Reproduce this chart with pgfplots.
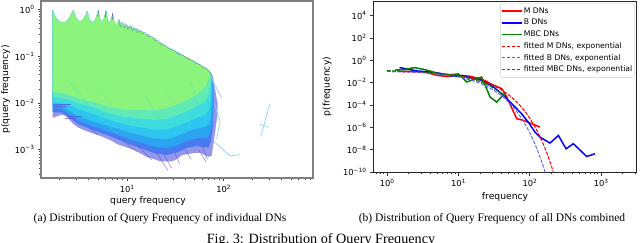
\documentclass[border=0pt]{standalone}
\usepackage{fontspec}
\setmainfont{Liberation Serif}
\newfontfamily\dejavu{DejaVu Sans}
\usepackage{pgfplots}
\pgfplotsset{compat=1.18}
\newcommand\tickfont{\dejavu\fontsize{8.3}{9}\selectfont}
\newcommand\labfont{\dejavu\fontsize{9.2}{11}\selectfont}
\newcommand\legfont{\dejavu\fontsize{7.7}{9}\selectfont}
\newcommand\ex[1]{10\raisebox{0.42em}{\fontsize{5.8}{6}\selectfont #1}}
\definecolor{c0}{HTML}{5050DC}
\definecolor{c1}{HTML}{3878F0}
\definecolor{c2}{HTML}{2CA4F2}
\definecolor{c3}{HTML}{2EC6F0}
\definecolor{c4}{HTML}{3EDCDC}
\definecolor{c5}{HTML}{62EAB6}
\definecolor{c6}{HTML}{8CF47C}
\definecolor{cL}{HTML}{7CCFF5}
\definecolor{mplgreen}{HTML}{008000}
\begin{document}
\begin{tikzpicture}[x=1pt,y=1pt]
\path[use as bounding box] (0,0) rectangle (640,242);
% ---------------- left panel ----------------
\begin{axis}[at={(41pt,64pt)}, anchor=south west, width=272pt, height=177pt, scale only axis,
  xmode=log, ymode=log, xmin=1.285, xmax=845, ymin=2.47e-4, ymax=1.52,
  axis line style={draw=black!50, line width=1.1pt},
  tick align=outside, tick pos=left, major tick length=3.5pt, minor tick length=2pt,
  tick style={black!75, line width=0.6pt},
  xtick={10,100}, xticklabels={\ex{1},\ex{2}},
  minor xtick={2,3,4,5,6,7,8,9,20,30,40,50,60,70,80,90,200,300,400,500,600,700,800},
  ytick={1e-3,1e-2,1e-1,1}, yticklabels={\ex{−3},\ex{−2},\ex{−1},\ex{0}},
  minor ytick={3e-4,4e-4,5e-4,6e-4,7e-4,8e-4,9e-4,2e-3,3e-3,4e-3,5e-3,6e-3,7e-3,8e-3,9e-3,2e-2,3e-2,4e-2,5e-2,6e-2,7e-2,8e-2,9e-2,0.2,0.3,0.4,0.5,0.6,0.7,0.8,0.9},
  tick label style={font=\tickfont},
]
% band 0 (outermost, dark blue)
\addplot[fill=c0, draw=none, fill opacity=0.6] coordinates {
(1.70,0.98) (1.76,0.78) (1.85,0.64) (1.97,0.56) (2.12,0.52) (2.3,0.54) (2.48,0.62) (2.65,0.8) (2.78,0.98)
(2.88,0.76) (3.02,0.62) (3.2,0.56) (3.4,0.57) (3.6,0.66) (3.78,0.82) (3.88,0.93)
(3.98,0.72) (4.15,0.58) (4.4,0.52) (4.7,0.6) (4.9,0.78) (5.05,0.96)
(5.18,0.7) (5.4,0.56) (5.7,0.58) (5.95,0.8) (6.05,0.95)
(6.25,0.62) (6.6,0.5) (6.95,0.68) (7.1,0.84)
(7.35,0.55) (7.8,0.47) (8.15,0.56) (8.32,0.6)
(8.7,0.45) (9.2,0.5) (9.6,0.42) (10,0.47) (10.6,0.4) (11.2,0.44) (11.8,0.37) (12.6,0.39) (13.5,0.33) (14.5,0.34) (15.5,0.29) (16.5,0.3) (18,0.25) (19.5,0.24) (21,0.2) (23,0.19) (26,0.155) (29,0.14) (32,0.125) (35.4,0.115) (39,0.1) (43,0.092) (48,0.08) (53,0.072) (58,0.064) (63,0.058) (67,0.054) (70,0.05) (73,0.045) (75.5,0.04)
(78,0.03) (81,0.022) (84,0.014) (87,0.0095) (86,0.005) (83,0.003) (80,0.0017) (77,0.001) (75.5,0.00075) (70,0.0007) (64,0.00076) (58,0.00085) (52,0.00085) (47,0.00083) (42,0.0008) (37,0.00076) (33,0.00063) (29,0.00056) (26,0.00056) (22,0.00056) (19,0.00063) (16,0.0007) (13.5,0.00085) (11.6,0.001) (9.5,0.00115) (8,0.0013) (6.7,0.0016) (5.5,0.0019) (4.5,0.0022) (3.6,0.0026) (3.1,0.003) (2.75,0.0036) (2.5,0.0045) (2.35,0.0052) (2.1,0.0056) (1.9,0.0052) (1.70,0.0048)
} -- cycle;
% band 1
\addplot[fill=c1, draw=none, fill opacity=0.85] coordinates {
(1.70,0.98) (1.76,0.78) (1.85,0.64) (1.97,0.56) (2.12,0.52) (2.3,0.54) (2.48,0.62) (2.65,0.8) (2.78,0.98)
(2.88,0.76) (3.02,0.62) (3.2,0.56) (3.4,0.57) (3.6,0.66) (3.78,0.82) (3.88,0.93)
(3.98,0.72) (4.15,0.58) (4.4,0.52) (4.7,0.6) (4.9,0.78) (5.05,0.96)
(5.18,0.7) (5.4,0.56) (5.7,0.58) (5.95,0.8) (6.05,0.95)
(6.25,0.62) (6.6,0.5) (6.95,0.68) (7.1,0.84)
(7.35,0.55) (7.8,0.47) (8.15,0.56) (8.32,0.6)
(8.7,0.45) (9.2,0.5) (9.6,0.42) (10,0.47) (10.6,0.4) (11.2,0.44) (11.8,0.37) (12.6,0.39) (13.5,0.33) (14.5,0.34) (15.5,0.29) (16.5,0.3) (18,0.25) (19.5,0.24) (21,0.2) (23,0.19) (26,0.155) (29,0.14) (32,0.125) (35.4,0.115) (39,0.1) (43,0.092) (48,0.08) (53,0.072) (58,0.064) (63,0.058) (67,0.054) (70,0.05) (73,0.045) (75.5,0.04)
(78,0.025) (79,0.01) (78,0.0035) (74,0.0015) (70,0.00112) (64,0.00113) (52,0.0012) (42,0.00109) (33,0.00087) (26,0.00077) (19,0.00084) (13.5,0.0011) (9.5,0.00143) (6.7,0.00193) (4.5,0.00261) (3.1,0.00352) (2.5,0.00503) (2.1,0.0062) (1.7,0.0064)
} -- cycle;
% band 2
\addplot[fill=c2, draw=none] coordinates {
(1.70,0.98) (1.76,0.78) (1.85,0.64) (1.97,0.56) (2.12,0.52) (2.3,0.54) (2.48,0.62) (2.65,0.8) (2.78,0.98)
(2.88,0.76) (3.02,0.62) (3.2,0.56) (3.4,0.57) (3.6,0.66) (3.78,0.82) (3.88,0.93)
(3.98,0.72) (4.15,0.58) (4.4,0.52) (4.7,0.6) (4.9,0.78) (5.05,0.96)
(5.18,0.7) (5.4,0.56) (5.7,0.58) (5.95,0.8) (6.05,0.95)
(6.25,0.62) (6.6,0.5) (6.95,0.68) (7.1,0.84)
(7.35,0.55) (7.8,0.47) (8.15,0.56) (8.32,0.6)
(8.7,0.45) (9.2,0.5) (9.6,0.42) (10,0.47) (10.6,0.4) (11.2,0.44) (11.8,0.37) (12.6,0.39) (13.5,0.33) (14.5,0.34) (15.5,0.29) (16.5,0.3) (18,0.25) (19.5,0.24) (21,0.2) (23,0.19) (26,0.155) (29,0.14) (32,0.125) (35.4,0.115) (39,0.1) (43,0.092) (48,0.08) (53,0.072) (58,0.064) (63,0.058) (67,0.054) (70,0.05) (73,0.045) (75.5,0.04)
(77,0.028) (78,0.012) (77,0.005) (74,0.0025) (70,0.00183) (64,0.00174) (52,0.00174) (42,0.00155) (33,0.00124) (26,0.00108) (19,0.00116) (13.5,0.00145) (9.5,0.00182) (6.7,0.00238) (4.5,0.00314) (3.1,0.00417) (2.5,0.00572) (2.1,0.0075) (1.7,0.0078)
} -- cycle;
% band 3
\addplot[fill=c3, draw=none] coordinates {
(1.70,0.98) (1.76,0.78) (1.85,0.64) (1.97,0.56) (2.12,0.52) (2.3,0.54) (2.48,0.62) (2.65,0.8) (2.78,0.98)
(2.88,0.76) (3.02,0.62) (3.2,0.56) (3.4,0.57) (3.6,0.66) (3.78,0.82) (3.88,0.93)
(3.98,0.72) (4.15,0.58) (4.4,0.52) (4.7,0.6) (4.9,0.78) (5.05,0.96)
(5.18,0.7) (5.4,0.56) (5.7,0.58) (5.95,0.8) (6.05,0.95)
(6.25,0.62) (6.6,0.5) (6.95,0.68) (7.1,0.84)
(7.35,0.55) (7.8,0.47) (8.15,0.56) (8.32,0.6)
(8.7,0.45) (9.2,0.5) (9.6,0.42) (10,0.47) (10.6,0.4) (11.2,0.44) (11.8,0.37) (12.6,0.39) (13.5,0.33) (14.5,0.34) (15.5,0.29) (16.5,0.3) (18,0.25) (19.5,0.24) (21,0.2) (23,0.19) (26,0.155) (29,0.14) (32,0.125) (35.4,0.115) (39,0.1) (43,0.092) (48,0.08) (53,0.072) (58,0.064) (63,0.058) (67,0.054) (70,0.05) (73,0.045) (75.5,0.04)
(76,0.03) (76,0.012) (74,0.005) (70,0.00349) (64,0.00305) (52,0.00282) (42,0.00244) (33,0.00195) (26,0.00169) (19,0.00174) (13.5,0.00207) (9.5,0.00249) (6.7,0.00315) (4.5,0.00403) (3.1,0.00519) (2.5,0.007) (2.1,0.0088) (1.7,0.0092)
} -- cycle;
% band 4
\addplot[fill=c4, draw=none] coordinates {
(1.70,0.98) (1.76,0.78) (1.85,0.64) (1.97,0.56) (2.12,0.52) (2.3,0.54) (2.48,0.62) (2.65,0.8) (2.78,0.98)
(2.88,0.76) (3.02,0.62) (3.2,0.56) (3.4,0.57) (3.6,0.66) (3.78,0.82) (3.88,0.93)
(3.98,0.72) (4.15,0.58) (4.4,0.52) (4.7,0.6) (4.9,0.78) (5.05,0.96)
(5.18,0.7) (5.4,0.56) (5.7,0.58) (5.95,0.8) (6.05,0.95)
(6.25,0.62) (6.6,0.5) (6.95,0.68) (7.1,0.84)
(7.35,0.55) (7.8,0.47) (8.15,0.56) (8.32,0.6)
(8.7,0.45) (9.2,0.5) (9.6,0.42) (10,0.47) (10.6,0.4) (11.2,0.44) (11.8,0.37) (12.6,0.39) (13.5,0.33) (14.5,0.34) (15.5,0.29) (16.5,0.3) (18,0.25) (19.5,0.24) (21,0.2) (23,0.19) (26,0.155) (29,0.14) (32,0.125) (35.4,0.115) (39,0.1) (43,0.092) (48,0.08) (53,0.072) (58,0.064) (63,0.058) (67,0.054) (70,0.05) (73,0.045) (75.5,0.04)
(75,0.035) (75,0.02) (73,0.01) (70,0.00692) (64,0.00555) (52,0.00472) (42,0.00394) (33,0.00318) (26,0.00272) (19,0.00269) (13.5,0.00303) (9.5,0.00347) (6.7,0.00423) (4.5,0.0058) (3.1,0.0075) (2.5,0.0092) (2.1,0.0098) (1.7,0.0105)
} -- cycle;
% band 5
\addplot[fill=c5, draw=none] coordinates {
(1.70,0.98) (1.76,0.78) (1.85,0.64) (1.97,0.56) (2.12,0.52) (2.3,0.54) (2.48,0.62) (2.65,0.8) (2.78,0.98)
(2.88,0.76) (3.02,0.62) (3.2,0.56) (3.4,0.57) (3.6,0.66) (3.78,0.82) (3.88,0.93)
(3.98,0.72) (4.15,0.58) (4.4,0.52) (4.7,0.6) (4.9,0.78) (5.05,0.96)
(5.18,0.7) (5.4,0.56) (5.7,0.58) (5.95,0.8) (6.05,0.95)
(6.25,0.62) (6.6,0.5) (6.95,0.68) (7.1,0.84)
(7.35,0.55) (7.8,0.47) (8.15,0.56) (8.32,0.6)
(8.7,0.45) (9.2,0.5) (9.6,0.42) (10,0.47) (10.6,0.4) (11.2,0.44) (11.8,0.37) (12.6,0.39) (13.5,0.33) (14.5,0.34) (15.5,0.29) (16.5,0.3) (18,0.25) (19.5,0.24) (21,0.2) (23,0.19) (26,0.155) (29,0.14) (32,0.125) (35.4,0.115) (39,0.1) (43,0.092) (48,0.08) (53,0.072) (58,0.064) (63,0.058) (67,0.054) (70,0.05) (73,0.045) (75.5,0.04)
(74.5,0.038) (73,0.022) (70,0.0148) (64,0.01076) (52,0.00836) (42,0.00673) (33,0.00545) (26,0.00459) (19,0.00437) (13.5,0.00463) (9.5,0.00501) (6.7,0.00586) (4.5,0.008) (3.1,0.01) (2.5,0.0118) (2.1,0.0125) (1.7,0.0135)
} -- cycle;
% band 6 (green)
\addplot[fill=c6, draw=none] coordinates {
(1.70,0.98) (1.76,0.78) (1.85,0.64) (1.97,0.56) (2.12,0.52) (2.3,0.54) (2.48,0.62) (2.65,0.8) (2.78,0.98)
(2.88,0.76) (3.02,0.62) (3.2,0.56) (3.4,0.57) (3.6,0.66) (3.78,0.82) (3.88,0.93)
(3.98,0.72) (4.15,0.58) (4.4,0.52) (4.7,0.6) (4.9,0.78) (5.05,0.96)
(5.18,0.7) (5.4,0.56) (5.7,0.58) (5.95,0.8) (6.05,0.95)
(6.25,0.62) (6.6,0.5) (6.95,0.68) (7.1,0.84)
(7.35,0.55) (7.8,0.47) (8.15,0.56) (8.32,0.6)
(8.7,0.45) (9.2,0.5) (9.6,0.42) (10,0.47) (10.6,0.4) (11.2,0.44) (11.8,0.37) (12.6,0.39) (13.5,0.33) (14.5,0.34) (15.5,0.29) (16.5,0.3) (18,0.25) (19.5,0.24) (21,0.2) (23,0.19) (26,0.155) (29,0.14) (32,0.125) (35.4,0.115) (39,0.1) (43,0.092) (48,0.08) (53,0.072) (58,0.064) (63,0.058) (67,0.054) (70,0.05) (73,0.045)
(71,0.035) (70,0.0316) (64,0.0209) (52,0.01479) (42,0.01148) (33,0.00933) (26,0.00776) (19,0.00708) (13.5,0.00708) (9.5,0.00724) (6.7,0.00813) (4.5,0.0105) (3.1,0.0128) (2.5,0.015) (2.1,0.0162) (1.7,0.0178)
} -- cycle;
% some individual curves crossing the bands
\addplot[c4, line width=0.5pt, opacity=0.5] coordinates {(2.5,0.03) (4,0.009) (6,0.0035) (8,0.0022)};
\addplot[c5, line width=0.5pt, opacity=0.5] coordinates {(5,0.02) (8,0.006) (12,0.0028)};
\addplot[c4, line width=0.5pt, opacity=0.5] coordinates {(15,0.015) (22,0.0045) (30,0.0015)};
\addplot[c5, line width=0.5pt, opacity=0.5] coordinates {(25,0.02) (35,0.0075) (45,0.0035)};
\addplot[c4, line width=0.5pt, opacity=0.5] coordinates {(45,0.03) (55,0.009) (65,0.004)};
% blue tips and ragged upper edge
\addplot[c0, line width=0.6pt, opacity=0.8] coordinates {(4.98,0.7) (5.05,0.97)};
\addplot[c0, line width=0.6pt, opacity=0.8] coordinates {(5.98,0.68) (6.05,0.96)};
\addplot[c0, line width=0.6pt, opacity=0.8] coordinates {(7.02,0.6) (7.1,0.85)};
\addplot[c0, line width=0.5pt, opacity=0.5] coordinates {
(8.2,0.62) (8.5,0.42) (8.9,0.55) (9.3,0.4) (9.7,0.5) (10.2,0.38) (10.8,0.46) (11.4,0.35) (12,0.41) (12.8,0.32) (13.5,0.37) (14.5,0.3) (15.5,0.33) (16.5,0.26) (18,0.27) (19.5,0.21) (21,0.22) (23,0.17) (25,0.17) (28,0.14) (31,0.135) (34,0.11) (38,0.105) (42,0.088) (47,0.082) (52,0.07) (57,0.066) (62,0.056) (67,0.055) (71,0.046) (75,0.042) (79,0.03)};
% dark curves at the lower edge
\addplot[c0, line width=0.5pt, opacity=0.7] coordinates {(13,0.0012) (18,0.0006)};
\addplot[c0, line width=0.5pt, opacity=0.7] coordinates {(20,0.0009) (26.5,0.00036)};
\addplot[c0, line width=0.5pt, opacity=0.7] coordinates {(24,0.0008) (29,0.0004)};
\addplot[c0, line width=0.5pt, opacity=0.7] coordinates {(31,0.0009) (35,0.0005)};
\addplot[c0, line width=0.5pt, opacity=0.7] coordinates {(40,0.001) (46,0.00062)};
\addplot[c0, line width=0.5pt, opacity=0.7] coordinates {(55,0.001) (66,0.00055)};
\addplot[c0, line width=0.5pt, opacity=0.7] coordinates {(60,0.0012) (68,0.00062)};
\addplot[c0, line width=0.5pt, opacity=0.7] coordinates {(9,0.0017) (11,0.0011) (13,0.0009)};
\addplot[c0, line width=0.5pt, opacity=0.7] coordinates {(4,0.003) (5,0.0021)};
\addplot[c0, line width=0.6pt, opacity=0.7] coordinates {(1.72,0.0095) (2.6,0.0095)};
\addplot[c0, line width=0.6pt, opacity=0.7] coordinates {(1.72,0.0086) (2.4,0.0086)};
\addplot[c0, line width=0.6pt, opacity=0.7] coordinates {(2.4,0.0052) (3.4,0.0052)};
\addplot[c0, line width=0.6pt, opacity=0.7] coordinates {(2.3,0.0047) (3.0,0.0047)};
% light curves on the right
\addplot[cL, line width=0.6pt] coordinates {(75,0.034) (96,0.0126)};
\addplot[cL, line width=0.6pt] coordinates {(80,0.01) (92,0.004) (85,0.0017)};
\addplot[cL, line width=0.6pt] coordinates {(78,0.00155) (117,0.00074) (148,0.00078)};
\addplot[cL, line width=0.6pt] coordinates {(303,0.0098) (243,0.0019)};
\addplot[cL, line width=0.6pt] coordinates {(235,0.00355) (291,0.0030)};
\end{axis}
% ---------------- right panel ----------------
\begin{axis}[at={(373pt,70pt)}, anchor=south west, width=263pt, height=171pt, scale only axis,
  xmode=log, ymode=log, xmin=0.636, xmax=3100, ymin=1e-10, ymax=2e5,
  axis line style={draw=black!85, line width=0.8pt},
  tick align=outside, tick pos=left, major tick length=3.5pt, minor tick length=2pt,
  tick style={black!80, line width=0.6pt},
  xtick={1,10,100,1000}, xticklabels={\ex{0},\ex{1},\ex{2},\ex{3}},
  minor xtick={0.7,0.8,0.9,2,3,4,5,6,7,8,9,20,30,40,50,60,70,80,90,200,300,400,500,600,700,800,900,2000,3000},
  ytick={1e-10,1e-8,1e-6,1e-4,1e-2,1,1e2,1e4},
  yticklabels={\ex{−10},\ex{−8},\ex{−6},\ex{−4},\ex{−2},\ex{0},\ex{2},\ex{4}},
  minor ytick={},
  tick label style={font=\tickfont},
  legend style={at={(1,1)}, anchor=north east, xshift=-1.5pt, yshift=-2pt,
    draw=black!20, rounded corners=2pt, font=\legfont, inner xsep=0.5pt, inner ysep=2pt, row sep=0pt,
    cells={anchor=west}, nodes={inner ysep=2pt, text height=6pt, text depth=1.7pt, inner xsep=1.5pt}},
  legend image code/.code={\draw[#1] (0pt,0pt) -- (20pt,0pt);},
]
\addplot[red, line width=1.5pt] coordinates {
(1.5,0.1) (2.5,0.1) (3.5,0.083) (5.0,0.0447) (6.9,0.0355) (9.5,0.0457) (14,0.038) (20,0.0229) (25,0.0126) (28,0.0081) (40.6,0.00288) (47.7,0.000513) (65.9,5.9e-6) (81.6,4.2e-6) (139.6,1.05e-6)};
\addlegendentry{M DNs}
\addplot[blue, line width=1.5pt] coordinates {
(1.5,0.224) (2.6,0.112) (4.5,0.083) (6.5,0.056) (8.5,0.037) (11.5,0.042) (13,0.032) (20,0.0186) (28,0.0063) (31,0.0041) (43,0.00074) (59,9.3e-5) (77,1.66e-5) (96,2.8e-6) (119,3.7e-7) (140,1.3e-7) (193,3.9e-8) (253,1.86e-7) (324,1.2e-8) (410,3.4e-8) (631,2.45e-9) (826,4.3e-9)};
\addlegendentry{B DNs}
\addplot[mplgreen, line width=1.5pt] coordinates {
(1.3,0.132) (1.8,0.151) (2.4,0.219) (3.2,0.158) (4.2,0.1) (5.5,0.0525) (7.5,0.05) (10,0.06) (13.1,0.0115) (21.2,0.0316) (27.9,0.00051) (34.5,0.00018) (45,0.00115)};
\addlegendentry{MBC DNs}
\addplot[red, line width=1pt, dash pattern=on 3.5pt off 1.5pt] coordinates {
(1,0.1) (1.5,0.0953) (2,0.0908) (3,0.0824) (5,0.0679) (7,0.0558) (10,0.0418) (15,0.0258) (20,0.0158) (25,0.00977) (30,0.00601) (40,0.00228) (50,8.65e-4) (60,3.28e-4) (70,1.245e-4) (80,4.72e-5) (90,1.79e-5) (100,6.79e-6) (120,9.77e-7) (140,1.41e-7) (160,2.02e-8) (180,2.91e-9) (200,4.19e-10) (220,6.03e-11) (240,8.7e-12)};
\addlegendentry{fitted M DNs, exponential}
\addplot[blue!65, line width=0.9pt, dash pattern=on 3.5pt off 1.5pt] coordinates {
(1,0.1) (1.5,0.0938) (2,0.0881) (3,0.0776) (5,0.0602) (7,0.0467) (10,0.0319) (15,0.01687) (20,0.00894) (30,0.00251) (40,7.03e-4) (50,1.97e-4) (60,5.53e-5) (70,1.55e-5) (80,4.36e-6) (90,1.22e-6) (100,3.43e-7) (110,9.62e-8) (120,2.70e-8) (130,7.57e-9) (140,2.12e-9) (150,5.96e-10) (160,1.67e-10) (170,4.69e-11) (180,1.32e-11)};
\addlegendentry{fitted B DNs, exponential}
\addplot[mplgreen, line width=1pt, dash pattern=on 3.5pt off 1.5pt] coordinates {
(1,0.1175) (2,0.1042) (3,0.0925) (5,0.0728) (7,0.0573) (10,0.04) (15,0.022) (20,0.0121) (25,0.00664) (30,0.00365) (35,0.002) (40,0.0011) (45,6.05e-4)};
\addlegendentry{fitted MBC DNs, exponential}
\end{axis}
% axis labels
\node[font=\labfont, rotate=90] at (5.5,152.5) {p(query frequency)};
\node[font=\labfont, anchor=base] at (148,39) {query frequency};
\node[font=\labfont, rotate=90] at (327,155.5) {p(frequency)};
\node[font=\labfont, anchor=base] at (505,43) {frequency};
% captions
\node[font=\fontsize{11.5}{13}\selectfont, anchor=base] at (160,21) {(a) Distribution of Query Frequency of individual DNs};
\node[font=\fontsize{11.5}{13}\selectfont, anchor=base] at (492,21) {(b) Distribution of Query Frequency of all DNs combined};
\node[font=\fontsize{14.2}{16}\selectfont, anchor=base] at (321,-1.5) {Fig.~3: Distribution of Query Frequency};
\end{tikzpicture}
\end{document}
